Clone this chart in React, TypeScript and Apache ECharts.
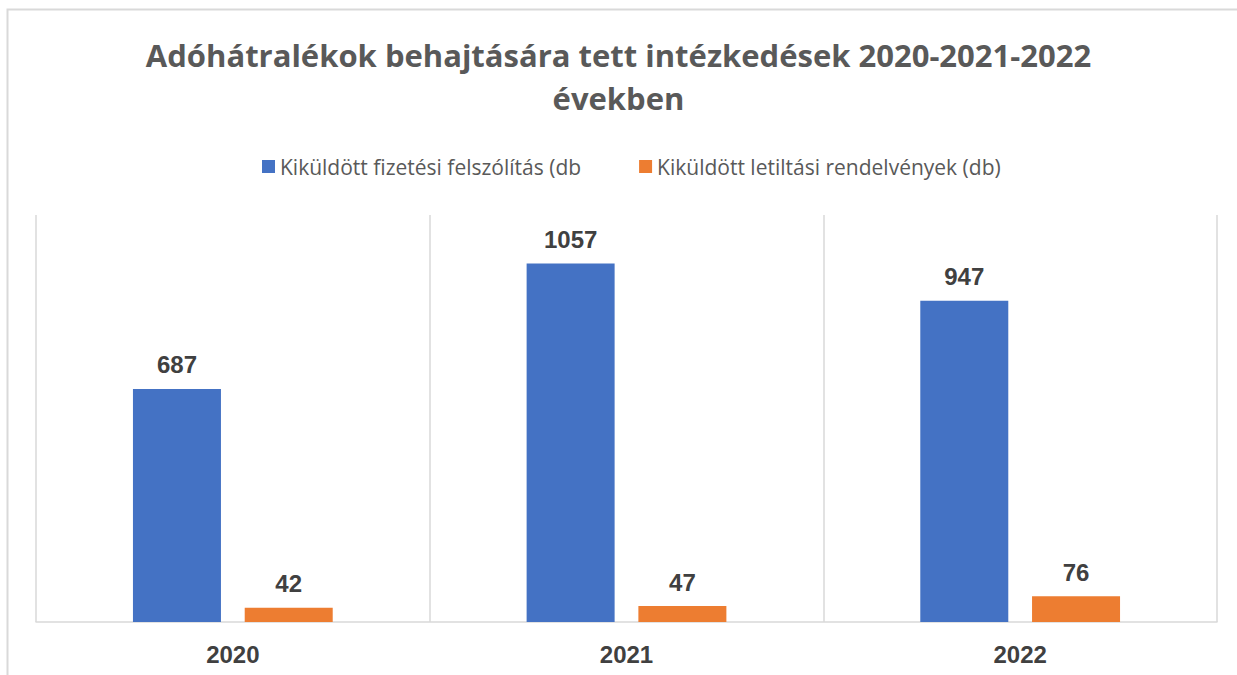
import React, { useEffect, useRef } from "react";
import * as echarts from "echarts";

const categories = ["2020", "2021", "2022"];
const seriesNames = ["Kiküldött fizetési felszólítás (db", "Kiküldött letiltási rendelvények (db)"];
const warnings = [687, 1057, 947];
const garnishments = [42, 47, 76];
const titleLines = ["Adóhátralékok behajtására tett intézkedések 2020-2021-2022", "években"];

export default function App() {
  const ref = useRef<HTMLDivElement>(null);
  useEffect(() => {
    const chart = echarts.init(ref.current!, null, { renderer: "svg" });
    const labelStyle = {
      show: true,
      position: "top" as const,
      distance: 12,
      fontFamily: "Liberation Sans, Arial, sans-serif",
      fontWeight: "bold" as const,
      fontSize: 24,
      color: "#404040",
    };
    const titleStyle = {
      fontSize: 31,
      fontWeight: "bold" as const,
      color: "#595959",
      fontFamily: "Open Sans, sans-serif",
    };
    chart.setOption({
      animation: false,
      backgroundColor: "#ffffff",
      textStyle: { fontFamily: "Liberation Sans, Arial, sans-serif" },
      title: [
        { text: titleLines[0], left: "center", top: 39, padding: 0, textStyle: titleStyle },
        { text: titleLines[1], left: "center", top: 82, padding: 0, textStyle: titleStyle },
      ],
      legend: {
        top: 151,
        left: 257,
        itemWidth: 13,
        itemHeight: 13,
        itemGap: 58,
        icon: "rect",
        textStyle: { fontSize: 21, color: "#595959", fontFamily: "Open Sans, sans-serif" },
        data: seriesNames,
      },
      graphic: [
        {
          type: "rect",
          shape: { x: 7.5, y: 9.5, width: 1300, height: 700 },
          style: { fill: "none", stroke: "#d9d9d9", lineWidth: 2 },
          silent: true,
        },
      ],
      grid: { left: 36, right: 20, top: 215, bottom: 53 },
      xAxis: {
        type: "category",
        data: categories,
        axisTick: { show: false },
        axisLine: { lineStyle: { color: "#d9d9d9", width: 1.5 } },
        splitLine: { show: true, interval: 0, lineStyle: { color: "#d9d9d9", width: 1.5 } },
        axisLabel: {
          margin: 20,
          fontSize: 24,
          fontWeight: "bold",
          color: "#404040",
        },
      },
      yAxis: {
        type: "value",
        min: 0,
        max: 1200,
        show: false,
        splitLine: { show: false },
      },
      series: [
        {
          name: seriesNames[0],
          type: "bar",
          data: warnings,
          barWidth: 88,
          barGap: "27%",
          itemStyle: { color: "#4472c4" },
          label: labelStyle,
        },
        {
          name: seriesNames[1],
          type: "bar",
          data: garnishments,
          barWidth: 88,
          itemStyle: { color: "#ed7d31" },
          label: labelStyle,
        },
      ],
    });
    return () => chart.dispose();
  }, []);
  return (
    <div
      ref={ref}
      style={{ position: "fixed", left: 0, top: 0, width: 1237, height: 675 }}
    />
  );
}
